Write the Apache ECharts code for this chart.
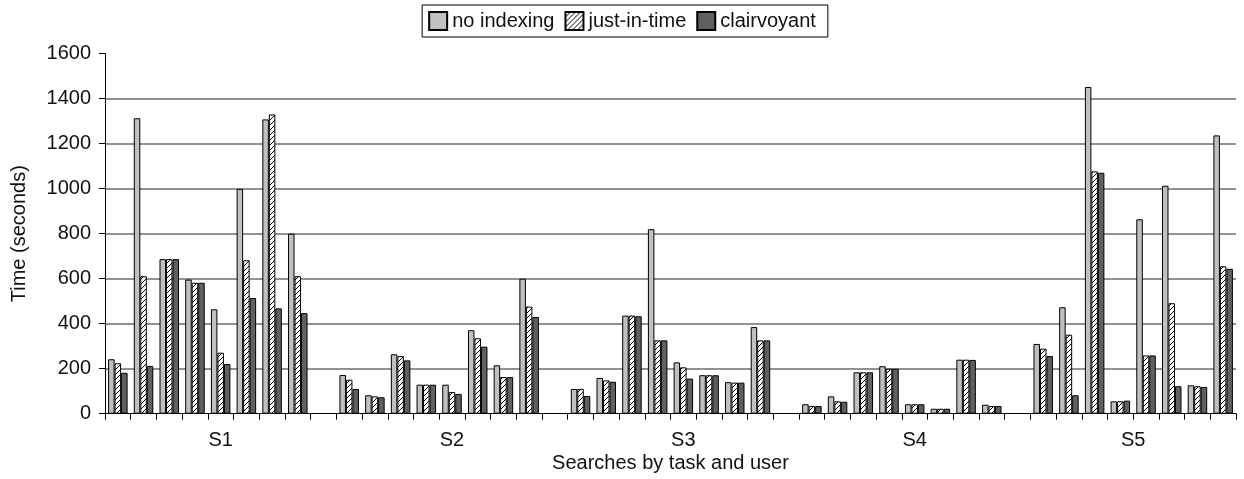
<!DOCTYPE html>
<html>
<head>
<meta charset="utf-8">
<script src="https://cdn.jsdelivr.net/npm/echarts@6/dist/echarts.min.js"></script>
<style>
  html, body { margin: 0; padding: 0; background: #fff; }
  #chart { width: 1244px; height: 479px; }
</style>
</head>
<body>
<div id="chart"></div>
<script>
// Search times (seconds) per user, grouped by task S1..S5; null marks the spacer slot between tasks.
const groupLabels = ['S1', 'S2', 'S3', 'S4', 'S5'];
const groupSizes = [9, 9, 9, 9, 8];

const noIndexing = [
  242, 1313, 687, 596, 464, 999, 1308, 800, null,
  172, 82, 264, 129, 129, 371, 215, 600, null,
  110, 159, 436, 820, 228, 171, 140, 385, null,
  42, 77, 184, 211, 42, 22, 240, 40, null,
  310, 473, 1452, 55, 864, 1013, 126, 1237
];
const justInTime = [
  224, 611, 687, 582, 271, 682, 1330, 611, null,
  151, 77, 256, 129, 96, 335, 163, 476, null,
  110, 148, 436, 326, 206, 171, 138, 326, null,
  34, 55, 184, 200, 42, 22, 240, 34, null,
  289, 351, 1077, 55, 259, 491, 122, 655
];
const clairvoyant = [
  182, 212, 687, 582, 221, 514, 468, 447, null,
  110, 73, 237, 129, 88, 298, 163, 430, null,
  79, 142, 433, 326, 156, 171, 138, 326, null,
  34, 53, 184, 200, 42, 22, 239, 34, null,
  256, 82, 1071, 58, 259, 122, 119, 644
];

const yTicks = [0, 200, 400, 600, 800, 1000, 1200, 1400, 1600];

// one category slot per user (plus spacers)
const slots = [];
const groupCenters = [];
let start = 0;
groupSizes.forEach((n, g) => {
  for (let i = 0; i < n; i++) slots.push(groupLabels[g] + '-' + (i + 1));
  groupCenters.push(start + n / 2);
  start += n;
});

// diagonal hatch fill for the just-in-time bars
function hatchPattern() {
  const c = document.createElement('canvas');
  c.width = 5; c.height = 5;
  const ctx = c.getContext('2d');
  ctx.fillStyle = '#ffffff';
  ctx.fillRect(0, 0, 5, 5);
  ctx.strokeStyle = '#000000';
  ctx.lineWidth = 1;
  ctx.beginPath();
  ctx.moveTo(-1, 6); ctx.lineTo(6, -1);
  ctx.moveTo(-6, 6); ctx.lineTo(1, -1);
  ctx.moveTo(4, 6); ctx.lineTo(11, -1);
  ctx.stroke();
  return c;
}

const FONT = "'Liberation Sans', Arial, Helvetica, sans-serif";
const chart = echarts.init(document.getElementById('chart'), null, { renderer: 'canvas' });

const barBase = {
  type: 'bar',
  barWidth: 6.5,
  barGap: '0%',
  animation: false
};

chart.setOption({
  backgroundColor: '#ffffff',
  textStyle: { fontFamily: FONT },
  legend: {
    top: 5,
    left: 'center',
    icon: 'rect',
    itemWidth: 18,
    itemHeight: 18,
    itemGap: 10,
    padding: [6, 12, 6, 6],
    borderColor: '#000',
    borderWidth: 1,
    textStyle: { fontFamily: FONT, fontSize: 20, color: '#111' },
    data: ['no indexing', 'just-in-time', 'clairvoyant']
  },
  grid: { left: 105, right: 8, top: 53.7, bottom: 65.3, containLabel: false },
  xAxis: [
    {
      type: 'category',
      data: slots,
      boundaryGap: true,
      axisLine: { lineStyle: { color: '#000', width: 1 } },
      axisTick: { show: true, interval: 0, length: 6, lineStyle: { color: '#000' } },
      axisLabel: { show: false },
      splitLine: { show: false },
      name: 'Searches by task and user',
      nameLocation: 'middle',
      nameGap: 40,
      nameTextStyle: { fontFamily: FONT, fontSize: 20, color: '#111' }
    },
    {
      type: 'value',
      min: 0,
      max: slots.length,
      position: 'bottom',
      axisLine: { show: false },
      axisTick: { show: false },
      splitLine: { show: false },
      axisLabel: {
        customValues: groupCenters,
        margin: 17,
        fontFamily: FONT,
        fontSize: 20,
        color: '#111',
        formatter: v => {
          const i = groupCenters.indexOf(v);
          return i >= 0 ? groupLabels[i] : '';
        }
      }
    }
  ],
  yAxis: {
    type: 'value',
    min: yTicks[0],
    max: yTicks[yTicks.length - 1],
    interval: 200,
    name: 'Time (seconds)',
    nameLocation: 'middle',
    nameGap: 76,
    nameTextStyle: { fontFamily: FONT, fontSize: 20, color: '#111' },
    axisLine: { show: true, lineStyle: { color: '#000', width: 1 } },
    axisTick: { show: true, length: 6, lineStyle: { color: '#000' } },
    axisLabel: {
      margin: 14,
      fontFamily: FONT,
      fontSize: 20,
      color: '#111',
      formatter: v => String(v)
    },
    splitLine: {
      show: true,
      showMinLine: false,
      showMaxLine: false,
      lineStyle: { color: '#6e6e6e', width: 1.5 }
    }
  },
  series: [
    Object.assign({}, barBase, {
      name: 'no indexing',
      data: noIndexing,
      itemStyle: { color: '#c0c0c0', borderColor: '#000', borderWidth: 1 }
    }),
    Object.assign({}, barBase, {
      name: 'just-in-time',
      data: justInTime,
      itemStyle: { color: { image: hatchPattern(), repeat: 'repeat' }, borderColor: '#000', borderWidth: 1 }
    }),
    Object.assign({}, barBase, {
      name: 'clairvoyant',
      data: clairvoyant,
      itemStyle: { color: '#606060', borderColor: '#000', borderWidth: 1 }
    })
  ]
});
</script>
</body>
</html>
